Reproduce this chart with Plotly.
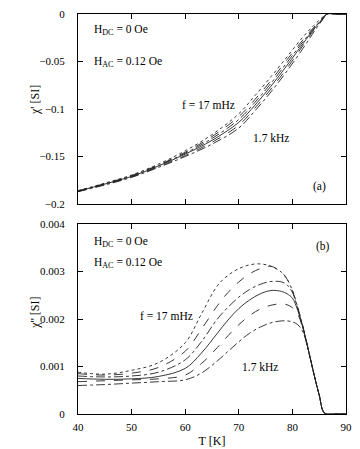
import plotly.graph_objects as go

# temperatures (K)
T_re = [40, 45, 50, 55, 60, 65, 70, 73, 76, 79, 82, 84, 85.5, 86.5, 88, 90]
T_im = [40, 45, 50, 55, 60, 63, 66, 68, 70, 72, 74, 76, 78, 79, 80, 81, 82, 83, 84, 85, 86, 88, 90]

# chi' for six frequencies, 17 mHz ... 1.7 kHz
chi_re_1 = [-0.186, -0.178, -0.1695, -0.158, -0.144, -0.127, -0.105, -0.086, -0.066, -0.045, -0.024, -0.012, -0.004, 0, 0, 0]
chi_re_2 = [-0.186, -0.1785, -0.170, -0.159, -0.1455, -0.129, -0.108, -0.090, -0.070, -0.048, -0.027, -0.014, -0.005, 0, 0, 0]
chi_re_3 = [-0.1865, -0.179, -0.1705, -0.1595, -0.1465, -0.131, -0.111, -0.093, -0.073, -0.051, -0.029, -0.015, -0.0055, 0, 0, 0]
chi_re_4 = [-0.1865, -0.179, -0.171, -0.160, -0.1475, -0.133, -0.114, -0.096, -0.076, -0.054, -0.031, -0.016, -0.006, 0, 0, 0]
chi_re_5 = [-0.187, -0.1795, -0.1715, -0.161, -0.149, -0.135, -0.117, -0.099, -0.079, -0.057, -0.033, -0.017, -0.0065, 0, 0, 0]
chi_re_6 = [-0.187, -0.180, -0.172, -0.1615, -0.150, -0.137, -0.120, -0.102, -0.082, -0.060, -0.036, -0.019, -0.007, 0, 0, 0]

# chi'' for the same six frequencies
chi_im_1 = [0.00088, 0.00084, 0.00092, 0.00108, 0.00150, 0.00210, 0.00270, 0.00292, 0.00306, 0.00314, 0.00316, 0.00311,
            0.00298, 0.00284, 0.00260, 0.00224, 0.00182, 0.00134, 0.00085, 0.00040, 0.00002, 0.0, 0.0]
chi_im_2 = [0.00085, 0.00082, 0.00086, 0.00098, 0.00132, 0.00178, 0.00228, 0.00256, 0.00278, 0.00295, 0.00306, 0.00311,
            0.00298, 0.00284, 0.00260, 0.00224, 0.00182, 0.00134, 0.00085, 0.00040, 0.00002, 0.0, 0.0]
chi_im_3 = [0.00080, 0.00078, 0.00080, 0.00088, 0.00114, 0.00152, 0.00200, 0.00225, 0.00246, 0.00262, 0.00273, 0.00279,
            0.00278, 0.00272, 0.00256, 0.00222, 0.00182, 0.00134, 0.00085, 0.00040, 0.00002, 0.0, 0.0]
chi_im_4 = [0.00075, 0.00073, 0.00074, 0.00079, 0.00096, 0.00128, 0.00170, 0.00198, 0.00222, 0.00240, 0.00253, 0.00260,
            0.00258, 0.00253, 0.00244, 0.00218, 0.00180, 0.00134, 0.00085, 0.00040, 0.00002, 0.0, 0.0]
chi_im_5 = [0.00068, 0.00070, 0.00072, 0.00074, 0.00082, 0.00106, 0.00140, 0.00165, 0.00188, 0.00207, 0.00221, 0.00229,
            0.00232, 0.00230, 0.00224, 0.00210, 0.00178, 0.00134, 0.00085, 0.00040, 0.00002, 0.0, 0.0]
chi_im_6 = [0.00060, 0.00062, 0.00065, 0.00068, 0.00072, 0.00086, 0.00112, 0.00132, 0.00152, 0.00170, 0.00183, 0.00192,
            0.00196, 0.00196, 0.00194, 0.00188, 0.00172, 0.00132, 0.00085, 0.00040, 0.00002, 0.0, 0.0]

chi_re = [chi_re_1, chi_re_2, chi_re_3, chi_re_4, chi_re_5, chi_re_6]
chi_im = [chi_im_1, chi_im_2, chi_im_3, chi_im_4, chi_im_5, chi_im_6]
dashes = ["dot", "dash", "dashdot", "solid", "dash", "dashdot"]

fig = go.Figure()
for ys, d in zip(chi_re, dashes):
    fig.add_trace(go.Scatter(x=T_re, y=ys, mode="lines", xaxis="x", yaxis="y",
                             line=dict(color="#222", width=0.9, dash=d, shape="spline")))
for ys, d in zip(chi_im, dashes):
    fig.add_trace(go.Scatter(x=T_im, y=ys, mode="lines", xaxis="x2", yaxis="y2",
                             line=dict(color="#222", width=0.9, dash=d, shape="spline")))

serif = "Liberation Serif, Times New Roman, serif"
ax = dict(showgrid=False, zeroline=False, showline=True, linecolor="black", linewidth=1,
          mirror="allticks", ticks="inside", ticklen=5, tickcolor="black", automargin=False,
          ticklabeloverflow="allow", tickfont=dict(family=serif, size=11, color="black"))

# page body adds an 8px margin, so the figure is sized to fit inside the window
fig.update_layout(
    width=352, height=441,
    margin=dict(l=70, r=14, t=6, b=35),
    paper_bgcolor="white", plot_bgcolor="white",
    showlegend=False,
    font=dict(family=serif, size=12, color="black"),
    xaxis=dict(ax, domain=[0, 1], range=[40, 90], dtick=10, showticklabels=False, anchor="y"),
    yaxis=dict(ax, domain=[0.525, 1], range=[-0.2, 0], dtick=0.05, anchor="x",
               ticklabelstandoff=10),
    xaxis2=dict(ax, domain=[0, 1], range=[40, 90], dtick=10, anchor="y2",
                ticklabelstandoff=3,
                title=dict(text="T [K]", standoff=4, font=dict(family=serif, size=12))),
    yaxis2=dict(ax, domain=[0, 0.475], range=[0, 0.004], dtick=0.001, anchor="x2",
                ticklabelstandoff=10),
)

# y axis titles
fig.add_annotation(xref="paper", yref="y", x=0, y=-0.0905, xshift=-52, text="χ' [SI]",
                   textangle=-90, showarrow=False, font=dict(family=serif, size=12))
fig.add_annotation(xref="paper", yref="y2", x=0, y=0.00213, xshift=-52, text="χ'' [SI]",
                   textangle=-90, showarrow=False, font=dict(family=serif, size=12))

notes = [
    ("x", "y", 42.6, -0.017, "H<sub>DC</sub> = 0 Oe", "left"),
    ("x", "y", 42.6, -0.0505, "H<sub>AC</sub> = 0.12 Oe", "left"),
    ("x", "y", 64.3, -0.0958, "f = 17 mHz", "center"),
    ("x", "y", 76.0, -0.1305, "1.7 kHz", "center"),
    ("x", "y", 85.1, -0.182, "(a)", "center"),
    ("x2", "y2", 42.6, 0.00362, "H<sub>DC</sub> = 0 Oe", "left"),
    ("x2", "y2", 42.6, 0.00318, "H<sub>AC</sub> = 0.12 Oe", "left"),
    ("x2", "y2", 56.6, 0.00206, "f = 17 mHz", "center"),
    ("x2", "y2", 74.0, 0.00099, "1.7 kHz", "center"),
    ("x2", "y2", 85.7, 0.00352, "(b)", "center"),
]
for xr, yr, x, y, t, anc in notes:
    fig.add_annotation(xref=xr, yref=yr, x=x, y=y, text=t, showarrow=False,
                       xanchor=anc, yanchor="middle", font=dict(family=serif, size=11.5))

fig.write_html("out.html")
